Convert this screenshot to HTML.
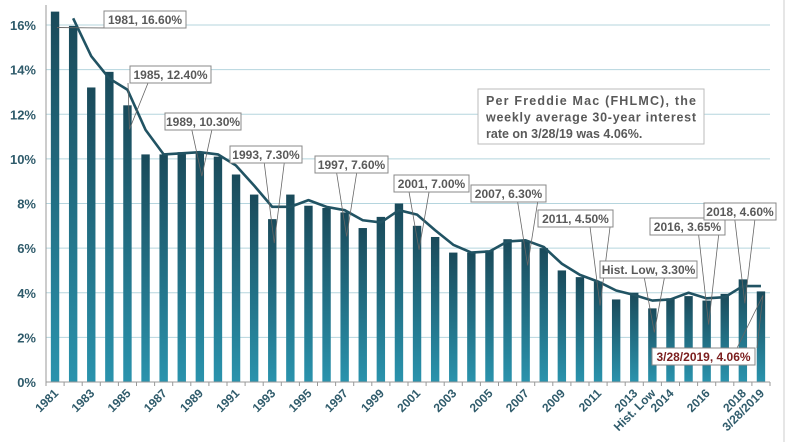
<!DOCTYPE html>
<html><head><meta charset="utf-8"><style>
body{margin:0;background:#fff;}
svg{display:block;font-family:"Liberation Sans",Arial,sans-serif;}
</style></head><body>
<svg id="chart" width="787" height="442" viewBox="0 0 787 442">
<defs><linearGradient id="bg" x1="0" y1="0" x2="0" y2="1"><stop offset="0" stop-color="#1a4a5a"/><stop offset="1" stop-color="#2a93ad"/></linearGradient></defs>
<line x1="784" y1="0" x2="784" y2="442" stroke="#ddd" stroke-width="1.5"/>
<g id="grid"></g><g id="bars"></g><g id="line"></g><g id="axes"></g><g id="notes"></g>
</svg>
<script>
const categories=["1981","1982","1983","1984","1985","1986","1987","1988","1989","1990","1991","1992","1993","1994","1995","1996","1997","1998","1999","2000","2001","2002","2003","2004","2005","2006","2007","2008","2009","2010","2011","2012","2013","Hist. Low","2014","2015","2016","2017","2018","3/28/2019"];
const barValues=[16.6,15.96,13.2,13.9,12.4,10.2,10.2,10.3,10.3,10.1,9.3,8.4,7.3,8.4,7.9,7.8,7.6,6.9,7.4,8.0,7.0,6.5,5.8,5.8,5.9,6.4,6.3,6.0,5.0,4.7,4.5,3.7,4.0,3.3,3.75,3.85,3.65,3.95,4.6,4.06];
const lineValues=[null,16.3,14.6,13.6,13.1,11.3,10.2,10.25,10.3,10.2,9.7,8.8,7.85,7.85,8.15,7.85,7.7,7.25,7.15,7.7,7.5,6.8,6.15,5.8,5.85,6.3,6.35,6.05,5.3,4.8,4.5,4.1,3.9,3.65,3.7,4.0,3.75,3.8,4.3,4.3];
const xTickLabels=["1981","1983","1985","1987","1989","1991","1993","1995","1997","1999","2001","2003","2005","2007","2009","2011","2013","Hist. Low","2014","2016","2018","3/28/2019"];
const yTicks=[0,2,4,6,8,10,12,14,16];
const notes=[["1981, 16.60%",0,104,11,82],["1985, 12.40%",4,130,66,81],["1989, 10.30%",8,165,113,76],["1993, 7.30%",12,230,146,72],["1997, 7.60%",16,315,156,73],["2001, 7.00%",20,394,175,75],["2007, 6.30%",26,471,185,75],["2011, 4.50%",30,538,210,75],["Hist. Low, 3.30%",33,600,261,97],["2016, 3.65%",36,650,218,75],["2018, 4.60%",38,704,203,72],["3/28/2019, 4.06%",39,652,348,103]];
const NS="http://www.w3.org/2000/svg";
const X0=46,X1=770,Y0=382,Ytop=25;
const bw=(X1-X0)/categories.length;
const x=i=>X0+bw*(i+0.5);
const y=v=>Y0-(v/16)*(Y0-Ytop);
function mk(p,t,a){const e=document.createElementNS(NS,t);for(const k in a)e.setAttribute(k,a[k]);p.appendChild(e);return e;}
const g=id=>document.getElementById(id);
yTicks.forEach(v=>{
 if(v>0){const l=mk(g('grid'),'line',{x1:X0,x2:X1,y1:y(v),y2:y(v),stroke:'#b5d5de','stroke-width':1});
 
 }
 const t=mk(g('axes'),'text',{x:36,y:y(v)+5,'text-anchor':'end','font-size':13,'font-weight':'bold',fill:'#2f5b6b'});
 t.textContent=v+'%';
 
 
});
barValues.forEach((v,i)=>{
 const r=mk(g('bars'),'rect',{x:x(i)-4.2,y:y(v),width:8.4,height:Y0-y(v),fill:'url(#bg)'});
 
 
});
let d='';lineValues.forEach((v,i)=>{if(v!==null)d+=(d?'L':'M')+x(i)+','+y(v);});
const pl=mk(g('line'),'path',{d:d,fill:'none',stroke:'#215363','stroke-width':2.6,'stroke-linejoin':'round'});


const ax=mk(g('axes'),'line',{x1:X0,x2:X1,y1:Y0,y2:Y0,stroke:'#999','stroke-width':1});


const ay=mk(g('axes'),'line',{x1:X0,x2:X0,y1:5,y2:Y0,stroke:'#999','stroke-width':1});


for(let i=0;i<=categories.length;i++){mk(g('axes'),'line',{x1:X0+bw*i,x2:X0+bw*i,y1:Y0,y2:Y0+4,stroke:'#999'});}
xTickLabels.forEach(lb=>{
 const i=categories.indexOf(lb);
 const px=x(i)+4,py=Y0+12;
 const t=mk(g('axes'),'text',{x:px,y:py,'text-anchor':'end','font-size':12,'font-weight':'bold',fill:'#2f5b6b',transform:`rotate(-45 ${px} ${py})`});
 t.textContent=lb;
 
 
});
notes.forEach(n=>{
 const [txt,i,bx,by,w]=n;const h=17;
 const v=barValues[i];const tx=x(i)+2,ty=y(v)+(i==39?4:i==0?16:24);
 const above=ty<by;
 const ey=above?by:by+h;const cx=Math.min(Math.max(tx,bx+8),bx+w-8);
 const wedge=mk(g('notes'),'polyline',{points:`${cx-10},${ey} ${tx},${ty} ${cx+10},${ey}`,fill:'none',stroke:'#666','stroke-width':0.8});
 
 
 const r=mk(g('notes'),'rect',{x:bx,y:by,width:w,height:h,fill:'#fff',stroke:'#888','stroke-width':1});
 
 
 const t=mk(g('notes'),'text',{x:bx+w/2,y:by+13,'text-anchor':'middle','font-size':12,'font-weight':'bold',fill:i==39?'#7b1e1e':'#595959'});
 t.textContent=txt;
 
 
});
const ib=mk(g('notes'),'rect',{x:478,y:89,width:226,height:55,fill:'#fff',stroke:'#bbb','stroke-width':1});


["Per Freddie Mac (FHLMC), the","weekly average 30-year interest","rate on 3/28/19 was 4.06%."].forEach((s,k)=>{
 const t=mk(g('notes'),'text',{x:486,y:105+k*16.5,'font-size':12.5,'font-weight':'bold',fill:'#595959'});
 if(k<2){t.setAttribute('textLength',210);t.setAttribute('lengthAdjust','spacing');}
 t.textContent=s;
 
 
});
</script>
</body></html>
